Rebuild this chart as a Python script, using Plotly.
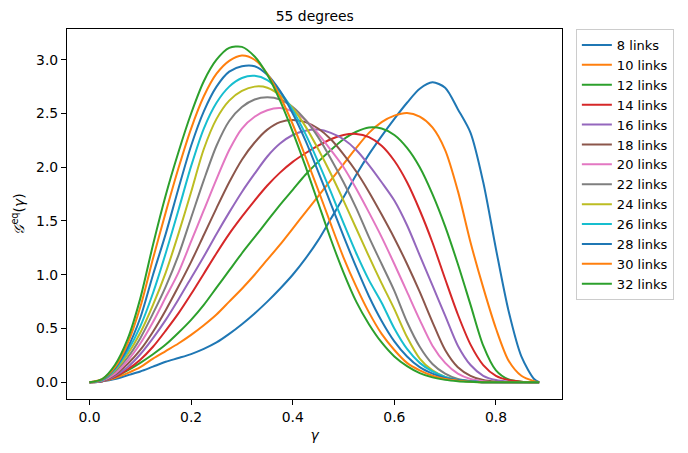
import plotly.graph_objects as go

gamma = [0, 0.025, 0.05, 0.075, 0.1, 0.125, 0.15, 0.175, 0.2, 0.225, 0.25, 0.275,
         0.3, 0.325, 0.35, 0.375, 0.4, 0.425, 0.45, 0.475, 0.5, 0.525, 0.55, 0.575,
         0.6, 0.625, 0.65, 0.675, 0.7, 0.725, 0.75, 0.775, 0.8, 0.825, 0.85, 0.875, 0.885]

links_8 = [0, 0.01, 0.03, 0.065, 0.10, 0.145, 0.19, 0.225, 0.262, 0.31, 0.37, 0.45, 0.54, 0.64, 0.75, 0.87, 1.00, 1.15, 1.32, 1.52, 1.72, 1.93, 2.12, 2.29, 2.45, 2.60, 2.73, 2.79, 2.74, 2.54, 2.32, 1.86, 1.24, 0.66, 0.24, 0.03, 0]
links_10 = [0, 0.01, 0.04, 0.085, 0.14, 0.22, 0.29, 0.36, 0.44, 0.53, 0.63, 0.75, 0.87, 1.00, 1.14, 1.28, 1.43, 1.58, 1.73, 1.88, 2.03, 2.18, 2.32, 2.42, 2.48, 2.505, 2.47, 2.37, 2.16, 1.78, 1.30, 0.88, 0.50, 0.20, 0.06, 0.01, 0]
links_12 = [0, 0.01, 0.05, 0.11, 0.18, 0.26, 0.35, 0.46, 0.58, 0.72, 0.88, 1.04, 1.20, 1.35, 1.50, 1.65, 1.79, 1.93, 2.05, 2.16, 2.26, 2.33, 2.37, 2.36, 2.30, 2.18, 2.00, 1.75, 1.45, 1.10, 0.72, 0.34, 0.11, 0.025, 0.005, 0, 0]
links_14 = [0, 0.01, 0.05, 0.12, 0.21, 0.33, 0.48, 0.64, 0.82, 1.01, 1.20, 1.38, 1.54, 1.69, 1.83, 1.95, 2.05, 2.13, 2.20, 2.26, 2.30, 2.31, 2.28, 2.20, 2.06, 1.86, 1.60, 1.30, 0.96, 0.63, 0.35, 0.16, 0.06, 0.02, 0.005, 0, 0]
links_16 = [0, 0.01, 0.06, 0.14, 0.26, 0.41, 0.58, 0.77, 0.97, 1.17, 1.38, 1.58, 1.77, 1.94, 2.10, 2.22, 2.30, 2.34, 2.35, 2.32, 2.26, 2.16, 2.02, 1.86, 1.69, 1.46, 1.18, 0.90, 0.62, 0.34, 0.16, 0.06, 0.02, 0.005, 0, 0, 0]
links_18 = [0, 0.01, 0.07, 0.17, 0.30, 0.47, 0.67, 0.89, 1.12, 1.37, 1.62, 1.86, 2.07, 2.23, 2.35, 2.42, 2.44, 2.42, 2.36, 2.26, 2.12, 1.96, 1.77, 1.56, 1.34, 1.10, 0.84, 0.56, 0.30, 0.14, 0.06, 0.02, 0.005, 0, 0, 0, 0]
links_20 = [0, 0.015, 0.08, 0.20, 0.36, 0.56, 0.79, 1.02, 1.31, 1.60, 1.89, 2.16, 2.36, 2.47, 2.53, 2.55, 2.52, 2.44, 2.31, 2.16, 2.00, 1.80, 1.58, 1.35, 1.10, 0.84, 0.58, 0.34, 0.18, 0.08, 0.03, 0.01, 0, 0, 0, 0, 0]
links_22 = [0, 0.02, 0.10, 0.23, 0.41, 0.64, 0.89, 1.18, 1.53, 1.88, 2.20, 2.43, 2.56, 2.63, 2.65, 2.63, 2.56, 2.44, 2.28, 2.08, 1.86, 1.62, 1.35, 1.10, 0.85, 0.56, 0.33, 0.17, 0.08, 0.03, 0.01, 0, 0, 0, 0, 0, 0]
links_24 = [0, 0.02, 0.11, 0.26, 0.46, 0.72, 1.02, 1.38, 1.77, 2.17, 2.45, 2.62, 2.71, 2.75, 2.74, 2.67, 2.55, 2.38, 2.17, 1.94, 1.69, 1.43, 1.17, 0.92, 0.68, 0.42, 0.22, 0.11, 0.05, 0.02, 0.005, 0, 0, 0, 0, 0, 0]
links_26 = [0, 0.02, 0.12, 0.29, 0.52, 0.83, 1.20, 1.60, 2.01, 2.36, 2.60, 2.75, 2.83, 2.85, 2.81, 2.70, 2.53, 2.31, 2.05, 1.77, 1.48, 1.20, 0.95, 0.74, 0.50, 0.31, 0.18, 0.10, 0.05, 0.02, 0.01, 0, 0, 0, 0, 0, 0]
links_28 = [0, 0.025, 0.13, 0.32, 0.60, 1.00, 1.38, 1.80, 2.20, 2.52, 2.75, 2.89, 2.94, 2.94, 2.86, 2.71, 2.50, 2.25, 1.96, 1.66, 1.36, 1.07, 0.80, 0.57, 0.38, 0.24, 0.14, 0.08, 0.04, 0.02, 0.01, 0, 0, 0, 0, 0, 0]
links_30 = [0, 0.03, 0.14, 0.36, 0.70, 1.15, 1.58, 1.99, 2.36, 2.66, 2.87, 2.99, 3.04, 3.00, 2.87, 2.66, 2.40, 2.10, 1.79, 1.47, 1.16, 0.89, 0.65, 0.45, 0.30, 0.18, 0.11, 0.06, 0.03, 0.015, 0.005, 0, 0, 0, 0, 0, 0]
links_32 = [0, 0.03, 0.16, 0.40, 0.78, 1.28, 1.74, 2.14, 2.50, 2.80, 3.00, 3.11, 3.12, 3.03, 2.86, 2.62, 2.33, 2.01, 1.67, 1.33, 1.02, 0.75, 0.54, 0.37, 0.24, 0.15, 0.085, 0.045, 0.022, 0.01, 0.004, 0, 0, 0, 0, 0, 0]

series_names = ["8 links", "10 links", "12 links", "14 links", "16 links", "18 links", "20 links",
                "22 links", "24 links", "26 links", "28 links", "30 links", "32 links"]
series_values = [links_8, links_10, links_12, links_14, links_16, links_18, links_20,
                 links_22, links_24, links_26, links_28, links_30, links_32]
colors = ["#1f77b4", "#ff7f0e", "#2ca02c", "#d62728", "#9467bd", "#8c564b", "#e377c2",
          "#7f7f7f", "#bcbd22", "#17becf", "#1f77b4", "#ff7f0e", "#2ca02c"]

x_ticks = [0.0, 0.2, 0.4, 0.6, 0.8]
y_ticks = [0.0, 0.5, 1.0, 1.5, 2.0, 2.5, 3.0]

FONT = "DejaVu Sans"
FS = 13.9

fig = go.Figure()
for name, vals, col in zip(series_names, series_values, colors):
    fig.add_trace(go.Scatter(x=gamma, y=vals, mode="lines", name=name,
                             line=dict(color=col, width=2, shape="spline", smoothing=0.8)))

axis_common = dict(showline=True, linecolor="black", linewidth=1.1, mirror=True,
                   ticks="outside", ticklen=5, tickwidth=1.1, tickcolor="black",
                   showgrid=False, zeroline=False,
                   tickfont=dict(family=FONT, size=FS, color="black"))

fig.update_layout(
    width=688, height=453,
    margin=dict(l=67, r=126, t=29, b=54),
    paper_bgcolor="white", plot_bgcolor="white",
    font=dict(family=FONT, size=FS, color="black"),
    title=dict(text="55 degrees", x=0.4575, xanchor="center", y=1 - 16 / 453, yanchor="middle",
               font=dict(family=FONT, size=FS, color="black")),
    xaxis=dict(range=[-0.0443, 0.930], tickvals=x_ticks, ticktext=[f"{v:.1f}" for v in x_ticks],
               title=dict(text="<i>γ</i>", font=dict(family=FONT, size=FS), standoff=6),
               **axis_common),
    yaxis=dict(range=[-0.156, 3.286], tickvals=y_ticks, ticktext=[f"{v:.1f}" for v in y_ticks],
               title=dict(text="<i>𝒢</i><sup>eq</sup>(<i>γ</i>)", font=dict(family=FONT, size=FS), standoff=8),
               **axis_common),
    legend=dict(x=1.028, y=1.0, xanchor="left", yanchor="top",
                bordercolor="#cccccc", borderwidth=1, bgcolor="white",
                font=dict(family=FONT, size=13, color="black"),
                tracegroupgap=0),
    showlegend=True,
)

fig.write_html("out.html")
